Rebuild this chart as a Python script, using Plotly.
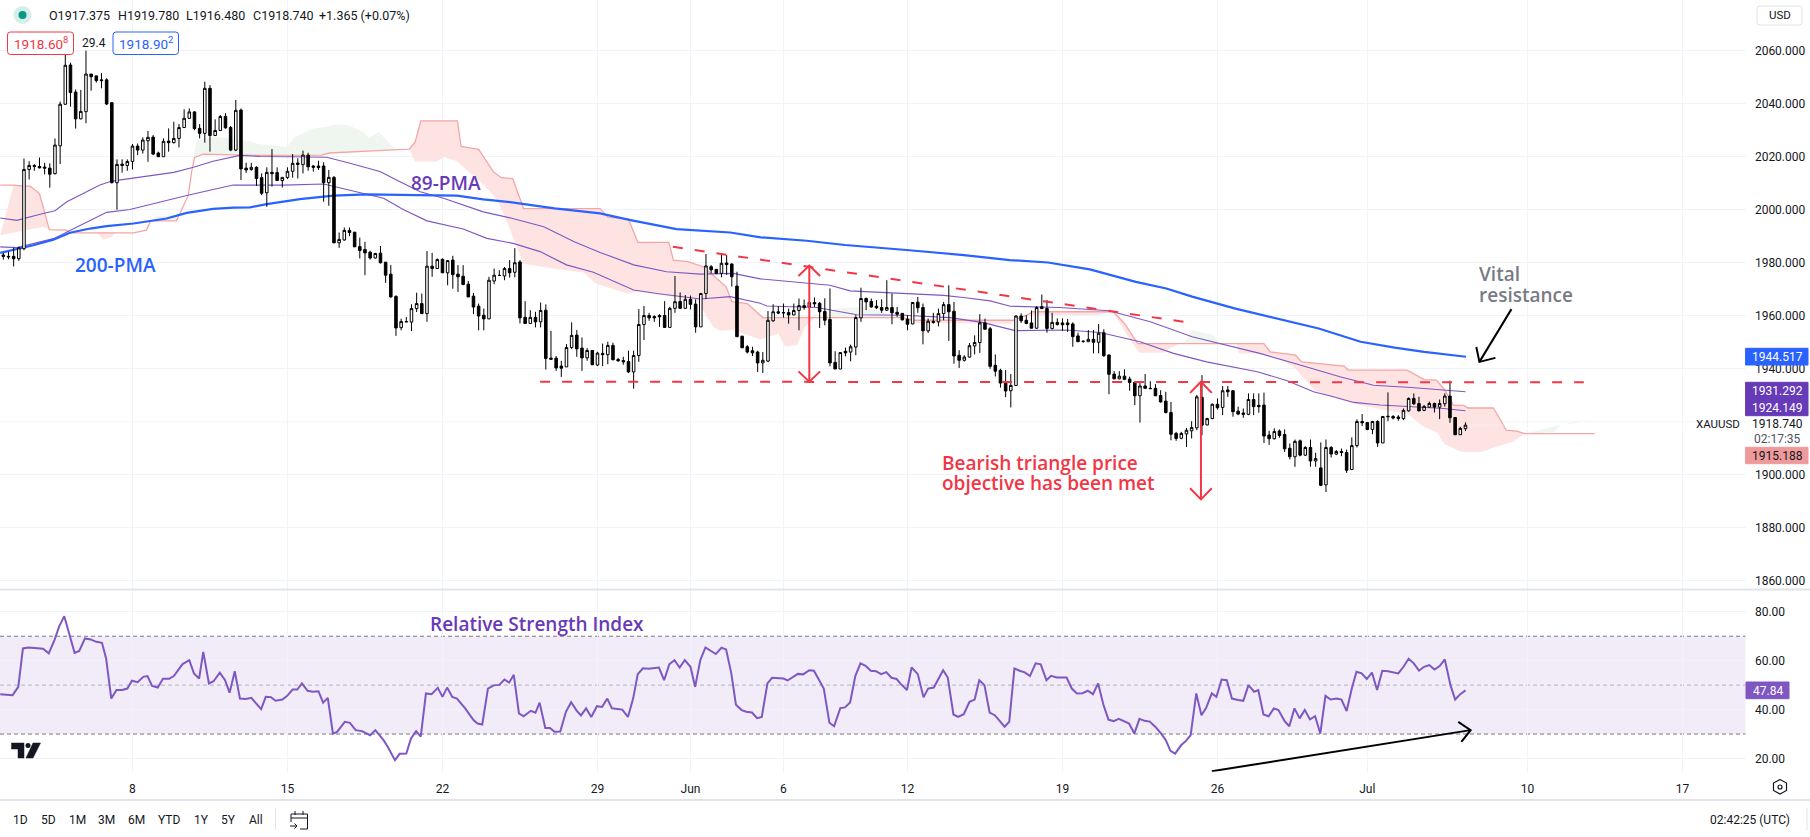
import plotly.graph_objects as go

W, H = 1810, 837
PANE_R, MAIN_B, RSI_B = 1745.5, 589.0, 771.7
BLACK, RED, BLUE, PURPLE, DEEP = "#000000", "#f23645", "#2962ff", "#7e57c2", "#673ab7"
TXT, GRID = "#131722", "#f0f3fa"
FONT, LABEL = "Roboto", "Open Sans"

opens = [1982.9,1982.4,1982.4,1981.5,1985.3,2015.2,2016.7,2016.3,2016.1,2015.7,
2013.6,2024.1,2039.8,2054.6,2044.4,2034.3,2037,2051.2,2050.5,2049,
2049,2040.4,2010.2,2017.2,2016.7,2018.2,2024,2022.5,2026,2027.4,
2021.4,2020,2025.9,2025.3,2026.9,2031,2034.5,2036.9,2030.7,2028.8,
2045.8,2028,2029.9,2035.2,2031,2022.5,2037.6,2015.7,2015.2,2016,
2012.1,2006.4,2014.1,2014,2011,2012.2,2014.5,2017.6,2017,2020.6,
2016.5,2016.5,2016.5,2010.2,2012.2,1987.5,1988.6,1992.2,1991.5,1986.1,
1985,1984,1981.8,1983.6,1980.2,1975.7,1967.3,1955.5,1957.8,1957.6,
1962.7,1964.6,1960.8,1978.7,1977.8,1981.3,1976.2,1981,1975.7,1974.9,
1971.9,1967.4,1963.6,1960.2,1958.8,1973.1,1975.2,1975,1977.8,1976.4,
1980.3,1959.4,1957.1,1959.4,1957.7,1962.1,1944,1944,1941,1940.7,
1948,1952.7,1947.8,1944.1,1946.9,1941.4,1945.8,1945.3,1948.8,1943.5,
1943.1,1942.7,1938.8,1945,1956.7,1960.1,1959.7,1960.1,1960.1,1955.6,
1962.8,1965.4,1962.8,1966.2,1964.4,1955.8,1968.4,1978.5,1977.5,1976,
1979.9,1979.5,1971.2,1952.3,1948.3,1946.8,1946.3,1942.2,1942.9,1958.1,
1961.5,1961.2,1961.2,1960.3,1962,1963.8,1963.3,1965,1964.7,1961.6,
1958.6,1942.4,1939.9,1946.6,1946.3,1948.2,1959.2,1966.5,1965.4,1963.6,
1963.1,1962.1,1963.1,1961.3,1960.9,1958.7,1956.9,1965.1,1963.1,1954.3,
1957.9,1957.7,1960.8,1964.2,1961.7,1945.1,1943.2,1944.4,1948.6,1949.9,
1957.3,1955.1,1941.3,1939.4,1934.9,1931.7,1933.7,1959.9,1958.3,1957.3,
1955.3,1963.4,1962.7,1955.2,1957.5,1957.3,1957.3,1956.9,1952.4,1950.4,
1950.2,1951.1,1950,1953.6,1945.2,1938,1936.2,1937.2,1936.1,1934.8,
1929.8,1933.5,1932.6,1932.6,1929.9,1927.8,1923.5,1915.6,1913.8,1915.4,
1916.6,1917.7,1929.2,1918.8,1921.2,1926.6,1925.4,1932,1931.7,1924,
1923.3,1922.8,1928.4,1926.2,1926.3,1915,1913.6,1916.5,1915.2,1910,
1906.8,1912.8,1907.4,1910.3,1905.2,1902.6,1896.2,1910.3,1907.8,1908.8,
1908.4,1902,1911,1920.1,1919.7,1917.1,1920.1,1912,1922.1,1922,
1921.8,1921.2,1924.1,1928.8,1926.9,1924.3,1925.5,1926.9,1925.5,1926.8,1929.7,1921.6,1915.1,1917.375]

highs = [1983.7,1984.1,1985.7,1986,2019.3,2018.3,2017.2,2019.7,2017.7,2017.5,
2026.9,2040.8,2058.4,2055.5,2045.4,2045.2,2060,2051.2,2050.6,2051.5,
2049.6,2040.4,2019,2019,2019,2024.8,2025,2027.3,2029.7,2028.2,
2021.9,2026.9,2030.7,2033.2,2032.3,2037.9,2038.2,2037.2,2032.3,2048.3,
2047,2034.1,2035.7,2036.4,2031.6,2041.4,2038.2,2017.7,2017.7,2016.4,
2013.7,2016,2022.9,2016,2012.2,2016,2021,2019.4,2022.3,2021.5,
2016.9,2018.5,2017.9,2015,2012.7,1991.4,1993.3,1993.3,1991.7,1989.5,
1987.9,1984.5,1983.7,1986.3,1980.3,1979.1,1967.7,1958.9,1959.5,1964.3,
1968.7,1968.4,1984.4,1983.7,1981.6,1981.6,1981,1982.6,1979.1,1979.1,
1973.1,1968.6,1964.6,1962.7,1974.7,1977.8,1977.2,1978.4,1981,1985.5,
1981,1965.5,1962.1,1961.5,1965,1964.3,1954.3,1944.8,1943,1949.3,
1957.5,1954.6,1951.8,1947.8,1947,1946.4,1949.5,1950.2,1949.8,1944.1,
1944.5,1946.8,1946.8,1962.5,1963.7,1961.1,1960.2,1960.6,1965.5,1963.4,
1975,1968.8,1967.8,1967.6,1966.2,1968.4,1983.3,1979.1,1977.5,1983.6,
1982.9,1979.8,1976.6,1952.3,1948.9,1948.3,1946.8,1946.3,1961.8,1964.3,
1963.6,1964.6,1962.7,1964.6,1966.5,1966.1,1965,1966.9,1965.2,1966.6,
1970.3,1946.6,1946.3,1948,1949.1,1960.2,1970.6,1966.9,1966.5,1965.9,
1966.2,1973.4,1968.4,1963.3,1960.9,1960.2,1965.2,1967.1,1964.6,1958.9,
1961.1,1962.7,1965.2,1971.5,1965.2,1947,1945.1,1949.7,1952.6,1960.6,
1958.9,1955.8,1945.4,1940,1939.5,1938,1960.2,1960.9,1960.2,1962,
1963.6,1968,1965.9,1961.1,1959,1959,1958.8,1957.5,1953.6,1950.8,
1954.6,1954.6,1956.9,1954.9,1945.4,1939.1,1939.1,1939.8,1937,1935.1,
1935.1,1938,1935.3,1934.2,1931.9,1931.3,1927.5,1916.2,1916.2,1917.7,
1920.2,1930.1,1937.6,1921.5,1926.9,1928.8,1933.5,1933.5,1932,1925.7,
1925,1930.7,1930.7,1930.7,1931,1916.6,1917.5,1917.1,1917.1,1911.8,
1913.3,1913.3,1910.8,1913.3,1908.3,1912.2,1913.3,1910.8,1909.3,1909.9,
1909.5,1914.1,1920.9,1922.9,1919.9,1920.2,1920.6,1922.1,1931.1,1922.5,
1922.5,1925,1929.2,1930.7,1929.4,1926.3,1927.6,1927.2,1928.4,1930.7,1935.5,1921.6,1918.1,1919.78]

lows = [1981.2,1981.3,1978.6,1980.7,1984.7,2011.4,2014.7,2015.6,2013.3,2008.3,
2013.3,2017.2,2039.5,2038.9,2030.6,2034.1,2032.6,2044.9,2048,2045.8,
2039.5,2009.9,2000,2014,2014.7,2015.2,2020.6,2021.2,2018.1,2020.6,
2020,2020,2021.9,2025,2023.5,2031,2034.2,2030,2026.9,2025.3,
2021.9,2027.8,2029.8,2030.6,2022.1,2022.1,2011.2,2013.9,2014.7,2009,
2005.5,2001.1,2008.7,2011,2008.4,2011.6,2012.1,2011.8,2013.7,2014.7,
2014.4,2015,2003,2001.5,1987.5,1985.6,1988.3,1990,1986,1981.6,
1975.3,1981.2,1981.6,1979.7,1972.4,1966.8,1952.4,1954.5,1957.7,1954.2,
1961.4,1960.8,1957.7,1974.7,1977.7,1976.2,1971.5,1970.2,1969,1971.5,
1967.1,1960.6,1954.5,1954.5,1958.8,1971.9,1975,1973.4,1974.4,1974.5,
1957.1,1957.1,1957.1,1955.6,1955.6,1939.7,1943.5,1939.2,1936.9,1940.7,
1947.4,1944.5,1939.2,1943,1941.4,1941,1941,1941.7,1943.2,1942.6,
1941.5,1938.4,1932.5,1942.6,1950.8,1958.1,1957.7,1955.8,1955.5,1955.5,
1961.1,1962.6,1962.6,1962.4,1953.6,1955.8,1966.3,1976,1975.7,1974.5,
1975.4,1971,1952.1,1947.9,1945.8,1944.8,1938.8,1938.4,1942.5,1957.7,
1960.6,1959.3,1957,1960.2,1954.5,1962.3,1963.1,1963.3,1955.4,1956.4,
1940.9,1939.9,1939.9,1944.7,1942.8,1945.1,1957.7,1962.1,1963.1,1962.5,
1961.1,1961.8,1956.8,1959.6,1958.4,1954.5,1956.8,1961.1,1949.2,1953.5,
1957,1956,1958.3,1950.5,1941.9,1940.3,1942.7,1944.2,1945.4,1946,
1954.9,1940,1937.1,1932.9,1929.3,1925.4,1933.5,1957.3,1956.8,1955.2,
1955,1962.5,1953.6,1954.8,1956.3,1954.3,1953.9,1948.3,1950.1,1949.8,
1950.2,1945.8,1945.8,1944.5,1930.4,1936,1936,1935.7,1931.7,1926.3,
1919.7,1932.6,1932.5,1929.7,1927.2,1923.1,1913,1912.8,1913.4,1910.5,
1913.7,1916.8,1914.9,1918.7,1921,1924.6,1922.5,1929.4,1921.9,1922.5,
1921.5,1922.5,1922.5,1923.4,1912,1911.3,1913.3,1914,1908.6,1905.8,
1903,1907,1907.1,1903,1903,1895.7,1893.5,1906.5,1907.4,1907,
1900.7,1901.7,1910.3,1918.4,1916.8,1915.3,1910.5,1912,1920.2,1920.9,
1920.4,1920.6,1923.8,1926.3,1924,1924,1925.3,1923.5,1921,1925.7,1919.6,1915.1,1915,1916.48]

closes = [1982.4,1982.2,1981.5,1985.6,2015.2,2016.7,2016.3,2015.8,2015.7,2013.4,
2024.4,2039.8,2054.5,2044.2,2034.3,2037.1,2051.2,2050.2,2048.7,2048.7,
2039.9,2010.2,2017.1,2016.7,2018.2,2024,2022.5,2026.3,2027.3,2021,
2020,2025.8,2025.3,2026.9,2031,2034.5,2036.9,2030.6,2028.8,2045.8,
2028,2029.9,2035.2,2030.9,2022.5,2037.5,2015.4,2015,2016,2011.8,
2006.2,2014.1,2013.6,2011,2012.2,2014.5,2017.5,2017.1,2020.6,2016.2,
2016,2015.9,2010.2,2012.2,1987.5,1988.8,1992.2,1991.4,1986,1984.6,
1983.7,1981.8,1983.5,1980,1975.3,1967.1,1955.4,1957.8,1957.7,1962.7,
1964.6,1960.8,1978.7,1977.8,1981.2,1976.2,1980.8,1975.5,1974.7,1971.8,
1967.1,1963.3,1959.9,1958.8,1973.4,1975.3,1975.2,1977.8,1976.2,1980,
1959.2,1957.1,1959.4,1957.7,1962,1943.9,1943.6,1940.3,1940.2,1948,
1952.6,1947.5,1944.1,1946.9,1941.5,1945.9,1945.3,1948.8,1943.4,1943,
1942.6,1938.8,1945,1956.7,1960.1,1959.2,1959.2,1959.6,1955.6,1962.8,
1965.3,1962.8,1966.2,1964.3,1955.8,1968.4,1978.8,1977.3,1976,1979.8,
1979.3,1974.7,1952.1,1947.9,1946.3,1946,1942.2,1943.2,1958.3,1961.5,
1961,1961.1,1960.3,1962,1963.8,1963.1,1965,1964.5,1961.5,1958.3,
1942.2,1939.9,1946.1,1946,1948.3,1959.3,1966.5,1965.2,1963.3,1963,
1962.1,1963.1,1961.1,1960.6,1958.4,1956.8,1965,1963,1954.3,1957.9,
1957.5,1960.8,1964.2,1961.5,1944.8,1943.2,1944.4,1948.7,1949.9,1957.3,
1954.9,1940.9,1939.1,1934.6,1931.6,1933.7,1959.9,1958.1,1957.1,1955.3,
1963.1,1962.7,1955.2,1957.5,1956.7,1956.6,1956.6,1952.1,1950.2,1950.3,
1951.1,1950,1953.4,1944.9,1937.9,1936.2,1937.2,1936,1934.8,1929.8,
1933.5,1932.6,1932.5,1929.8,1927.5,1923.5,1915.3,1913.7,1915.6,1916.8,
1917.8,1929.4,1918.7,1921.2,1926.6,1925.3,1931.7,1931.3,1923.8,1922.9,
1922.8,1928.4,1925.7,1925.7,1914.6,1913.6,1916.3,1914.8,1909.8,1906.8,
1912.6,1907.4,1910.3,1905.2,1906.1,1896,1910.3,1907.8,1908.8,1908.4,
1901.7,1911,1920.1,1919.6,1917.1,1920.1,1912,1922,1921.9,1921.4,
1921.2,1924.3,1928.8,1926.8,1924.1,1925.8,1926.9,1925.5,1926.9,1929.7,1921.5,1915.1,1917.5,1918.74]
candle_x = list(range(len(opens)))
assert len(opens) == len(highs) == len(lows) == len(closes) == 284

ma_upper_x = [-0.6,2.6,7.7,10,12.3,18.7,21,27.7,33,36.8,40.6,45.8,49.7,55.5,62.6,67.1,72.9,76.1,80.7,85.2,89,92.9,98.6,104.6,110.5,115.5,122,128.4,134.9,141.3,146.5,160,163.9,171.6,182,185.8,191,194.9,204.4,214,222,230.1,236.7,243.2,250.5,258.7,265.2,272.5,283]
ma_upper = [1996.9,1996,1998.6,1999.6,2003,2009.3,2010.8,2012.7,2014.1,2016,2018.3,2020.5,2020.1,2020,2019.8,2017.5,2014.4,2011.2,2006.8,2004.3,2001.8,1999.2,1996.7,1993.6,1987.9,1983.9,1979.2,1976.6,1975.7,1976,1973.9,1971.5,1969.4,1968.6,1967.7,1966.9,1965.6,1963.6,1963.1,1961.9,1957.7,1952.1,1948.9,1945.8,1941.7,1937,1933.8,1932.9,1931.3]
ma_lower_x = [-0.6,2.6,9.7,12.3,16.1,20,24.5,30.2,35.3,40.6,44.5,47.75,54.2,62,67.1,73.6,77.4,82,89,93.6,98.7,103.9,109,114.2,122,126.5,134.9,140.7,146.5,147.8,157.5,165.2,174.2,183.3,189.7,195.8,205.8,212.3,220,226.5,232.9,237.5,242.7,248.5,253.6,256.9,261.4,266.5,273.6,278.8,283]
ma_lower = [1986,1985.7,1989.1,1991.6,1995.4,1999,2000.1,2003,2005.3,2007.6,2009.3,2009.3,2009.3,2009.7,2007.4,2004.3,2000.1,1995.8,1992.7,1989.2,1987.3,1984.2,1979.2,1976.4,1969.7,1968.4,1966.3,1967.2,1964.7,1963.7,1963.1,1960.4,1960.2,1959.3,1957.4,1954.4,1954.6,1953.7,1950.2,1945.8,1942.6,1940.8,1938.9,1935.5,1931.3,1929.7,1927.3,1926.3,1925.7,1925,1924.149]
ma_200_x = [-0.6,2.6,5.8,9.7,12.9,16.8,20,25.2,28.4,31.6,35.5,40.6,44.5,47.75,51,57.4,63.9,70.3,80,87.8,92.9,98.1,106.7,115.5,121.4,130.3,140.7,146.6,155.5,162.9,174.8,185.9,194.8,202.2,210.3,219.2,225.1,230.1,238.3,246.4,254.6,262.7,269.3,275,283.1]
ma_200 = [1983.7,1985.1,1986.6,1988.7,1991.3,1992.9,1993.8,1994.8,1995.7,1996.7,1998.8,2000.3,2000.8,2000.9,2002.1,2004,2005.3,2005.8,2005.5,2005.3,2003.9,2002.9,2000.5,1998.6,1996.1,1992.7,1991.4,1989.6,1988.3,1986.7,1984.8,1982.9,1981,1980.1,1977.5,1972.8,1970.3,1967.2,1962.8,1959,1955.2,1950.2,1948,1946.4,1944.517]

span_b_x = [-0.6,2,3.9,5.2,7,8.9,12.2,12.9,25.2,27.7,28.5,33.5,34.2,35.8,36.5,37,38.7,49.7,61.6,63.1,73.4,78.6,79.7,80.8,87.9,88.6,92,94.9,96.4,98.6,100.7,115.5,117,121,122.8,128.8,129.7,132.5,135.5,139.9,141,144,147,174,176.2,195.5,198.1,199.2,214.8,217,219.6,231.6,244,245.2,250.1,251.3,259.5,260.3,271.7,275,277.4,279,280.7,282.7,283.5,288.4,290.9,292.9,294.5,308]
span_b = [2009.3,2009.3,2008.9,2008.9,2006.1,1992.5,1992.3,1991.3,1991.3,1992.3,1995.8,1995.8,1998.6,2005.5,2014.9,2019.7,2021,2020.5,2020.6,2021.4,2022.4,2022.9,2025.5,2033.5,2033.5,2023.9,2022.8,2014.2,2012.1,2011.7,2000.4,2000.4,1997.2,1996.5,1987.7,1987.7,1981,1980.4,1978.5,1970.9,1965.3,1964.6,1959.3,1959.3,1958.3,1958.3,1960.2,1961.5,1961.5,1957.1,1949.5,1949.4,1949.5,1946.4,1945.1,1942.6,1941,1939.5,1939.5,1935.9,1935.7,1931.9,1926.2,1926.2,1925.2,1925.2,1916.8,1916.5,1915.5,1915.5]

red_cloud_x = [[-0.6,2,4,7.6,8.7],[18.1,19.4,21,21.6],[78.6,79.7,83.8,85.3,87.9,91.2,93.4,95.7,97.9,100.7,106.8,112.3,114.7,120.7,122.9,129.7,134.2,137.4,138.7,141.3,146.5,150,151.3,153.6,155.2,156.8,157.5],[174,176.5,195,196],[196,199.2,212,214.8],[214.8,216.2,218.1,219.9,224.4,225.9,227.4],[238.7,239.1,243.6,246.4,249.7,253.8,257,261.1,267.6,271.7,275,277.4,279,282.3,286,288.8,292.1,294.5]]
red_cloud_y = [[1990.4,1991.3,1992,1993.5,1992.8],[1991.3,1988.7,1989.7,1991.3],[2022.9,2018.2,2018.2,2019.9,2018.2,2012.3,2008.5,2003.5,1993.4,1979.6,1977.7,1976.3,1972.2,1968.4,1969.1,1967.2,1965.9,1955.8,1954.3,1954.6,1951,1953.3,1948.5,1948.9,1955.8,1958.9,1959.3],[1959.3,1957.3,1957,1958.7],[1958.7,1960.2,1960.3,1961.5],[1961.5,1957,1950.8,1946,1946,1947.6,1949.3],[1949.5,1945.8,1945.8,1944.5,1940.8,1931.9,1929.4,1926.9,1924.3,1923.1,1918,1916.1,1911.5,1908.6,1908.6,1910.5,1912.4,1915.5]]
green_cloud_x = [[28.5,29.7,33.5,34.5],[36.8,37.5,40.8,46.8,49.7,54.9,56.4,60.1,62.3,64.5,66.8,69.7,70.8,72.7,75.7,76.4],[157.5,160,161.3,166.5,168.8,172,174],[228,229,230.1,234.2,235.4],[294.5,300.2,301.5,304.7,305.5,308]]
green_cloud_y = [[1995.8,1997.7,1997.9,1998.6],[2019.9,2026.2,2027.4,2026.2,2024.7,2023.7,2027.4,2030.6,2031.2,2032.2,2031.9,2029.3,2027.2,2029.3,2023,2022.7],[1959.3,1961.5,1962.7,1963.3,1962.1,1960,1959.3],[1949.4,1951,1954.6,1952.7,1949.5],[1915.5,1916.1,1919,1919.5,1920.6,1921.8]]

rsi_x = [-0.6,1.8,2.9,3.8,4.9,7.7,8.8,9.9,10.8,11.8,13.8,14.7,15.8,16.9,18,19.1,19.9,20.9,21.9,23,24,24.9,26,27.1,27.9,28.8,29.9,30.9,32.1,33,34.7,36,36.9,37.9,38.7,39.8,40.7,41.9,42.9,43.8,44.8,45.8,46.9,48,49.9,50.8,51.8,52.7,54,54.9,56,56.9,57.8,58.9,59.9,61,61.9,62.8,63.8,64.6,66.1,67.1,68.2,69.4,71,72,73.6,74.4,75.8,76.7,78,78.9,79.9,80.8,81.8,82.9,84.1,85,85.9,86.9,87.8,89.4,91,91.8,92.7,93.8,94.9,96,97,97.9,98.8,99.8,100.7,102.1,103,103.8,104.9,105.8,106.7,107.8,108.9,109.9,111,111.8,112.8,113.8,114.9,115.9,116.9,117.8,119.8,120.9,121.9,122.8,123.8,124.9,126.9,127.9,128.9,129.9,130.9,131.9,133,133.9,134.9,135.9,137.9,139,139.9,140.9,141.8,142.9,143.8,144.9,145.9,146.8,147.9,148.8,151,151.8,153.8,154.8,156,156.9,158.8,159.9,160.8,162,162.9,163.9,164.9,165.9,166.9,167.9,168.9,169.9,170.9,171.9,172.9,173.6,174.9,175.8,177,178.1,179,180.1,181.9,182.8,183.9,184.8,185.9,187,188,188.9,189.9,190.9,191.9,192.9,193.8,194.7,195.7,196.7,197.7,198.7,199.8,200.8,201.9,202.8,203.9,205.8,206.8,207.8,208.9,209.9,210.9,211.9,212.9,213.9,214.9,215.9,216.9,217.9,218.9,219.9,220.9,221.9,223,224.1,225,225.9,226.8,228,228.9,229.8,230.9,231.9,232.8,233.9,234.8,235.8,236.8,237.8,239,240,241,242.1,242.9,243.9,244.9,245.9,246.8,248,248.9,249.9,250.9,251.9,252.9,253.9,254.9,255.9,256.9,258.1,259,260,261,261.9,262.9,263.9,264.9,265.9,266.9,268,270,271,272,273,274,275,276,277,278,279,280.1,281,282,283]
rsi = [46.3,45.9,49.3,65,65.4,64.9,63,68.4,73.9,78.2,63.2,64,69.1,68.7,67.7,67.3,60.9,44.5,48,48,48.6,51.8,51.2,53.4,53.7,49.7,49,52.6,52.6,53.7,58.6,60.2,54.8,52.7,63.6,50.7,51.6,55.1,52.1,46.9,55.7,44.5,44.3,44.8,40.2,45.2,45.1,43.6,44.1,45.5,48.2,48.2,50.7,47.7,47.3,47.5,42.8,44.8,30.2,30.9,35,34.6,31.6,31.2,29.5,31.6,27.5,24.8,19.3,21.9,22,28.2,31.2,28.9,46.6,46.3,48.9,45.2,49,45.2,44.5,40.5,35.7,34.3,33.9,48.6,49.9,50.1,52.3,51,54.2,38.4,37.3,39.5,38.7,42.8,32.5,32.5,30.9,31,39.1,43,39.5,37.6,40.5,37,41.4,41.1,44.5,40.5,40,37,44.5,54.5,56.9,56.7,57.2,52,58.5,60.2,57.2,60.2,57.5,49.3,60.2,65.4,62.7,65.3,64.6,54.8,42,39.8,39.1,38.8,36.5,37,50.7,53,52.7,51.9,54.6,54.4,56.1,55.9,48.6,34.6,33.2,40.6,40.9,42.9,53.7,58.9,57.9,55.9,55.7,54.5,55.3,53,52.5,50.7,48,57.2,54.5,45,48.6,49,56.1,53.1,38,37,38.1,43.2,44.1,52,50,38.8,37.7,35,33,35,56.8,55.9,55.2,53.7,58.9,58.5,52,53.8,53.1,53.1,48.6,46.6,46.7,47.7,46.3,50.7,42.2,35.9,35.3,36.2,35.4,34.3,30.2,36.2,35.4,35.1,32.9,30.2,27.5,23.1,22,25.5,27.2,29.5,46.6,37.7,40.6,46.6,45.2,52.3,52,44.5,43.9,43.6,50,47.3,48,38,37.3,40.5,39.8,35.3,33.2,40.5,36.4,39.8,36,37.3,30.2,45.6,44.1,44.5,44.1,39.4,48.6,55.5,54.8,52.5,55.1,48,55.9,55.7,54.8,57.5,60.8,58.9,55.9,57.5,58.2,56.4,57.8,60.5,50,44.1,46.3,47.84]

price_ticks = [1860,1880,1900,1940,1960,1980,2000,2020,2040,2060]
price_labels = ["1860.000","1880.000","1900.000","1940.000","1960.000","1980.000","2000.000","2020.000","2040.000","2060.000"]
hidden_grid_price = 1920
rsi_ticks = [20,40,60,80]
rsi_labels = ["20.00","40.00","60.00","80.00"]
date_ticks = [25,55,85,115,133,151,175,205,235,264,295,325]
date_labels = ["8","15","22","29","Jun","6","12","19","26","Jul","10","17"]

trend_x, trend_y = [129.6,228.5], [1986,1957.7]
support_x, support_y = [103.9,305.9], [1935.1,1934.9]
last_close = 1918.74

fig = go.Figure()
xp = lambda v: v / W
yp = lambda v: 1 - v / H


def poly(xs, ys, color):
    lo, hi = min(xs), max(xs)
    back = [(a, b) for a, b in zip(span_b_x, span_b) if lo < a < hi][::-1]
    fig.add_trace(go.Scatter(x=xs + [p[0] for p in back], y=ys + [p[1] for p in back], mode="lines",
                             line=dict(width=0), fill="toself", fillcolor=color, hoverinfo="skip"))


for a, b in zip(red_cloud_x, red_cloud_y):
    poly(a, b, "#fde4e3")
for a, b in zip(green_cloud_x, green_cloud_y):
    poly(a, b, "#eff6f0")
fig.add_trace(go.Scatter(x=span_b_x, y=span_b, mode="lines", line=dict(color="#f5a5a5", width=1.3)))
fig.add_trace(go.Scatter(x=[282, 337.2], y=[last_close, last_close], mode="lines",
                         line=dict(color="#ffffff", width=1, dash="1px,2px")))
fig.add_trace(go.Scatter(x=ma_upper_x, y=ma_upper, mode="lines", line=dict(color=PURPLE, width=1.1)))
fig.add_trace(go.Scatter(x=ma_lower_x, y=ma_lower, mode="lines", line=dict(color=PURPLE, width=1.1)))
fig.add_trace(go.Scatter(x=ma_200_x, y=ma_200, mode="lines", line=dict(color=BLUE, width=2.2)))
# candles sit on their own overlay axes so they draw above the cloud and averages
fig.add_trace(go.Candlestick(x=candle_x, open=opens, high=highs, low=lows, close=closes, whiskerwidth=0,
                             xaxis="x3", yaxis="y3",
                             increasing=dict(fillcolor="#ffffff", line=dict(color=BLACK, width=1)),
                             decreasing=dict(fillcolor=BLACK, line=dict(color=BLACK, width=1))))
for xs, ys in ((trend_x, trend_y), (support_x, support_y)):
    fig.add_trace(go.Scatter(x=xs, y=ys, mode="lines", xaxis="x4", yaxis="y4",
                             line=dict(color=RED, width=2, dash="10px,12px")))


def arrow(xs, ys, color, axis="y4", xa="x4"):
    fig.add_trace(go.Scatter(x=xs, y=ys, mode="lines", xaxis=xa, yaxis=axis, cliponaxis=False,
                             line=dict(color=color, width=2)))


arrow([156, 156], [1978.9, 1935.1], RED)
arrow([153.9, 156, 158.1], [1975, 1978.9, 1975], RED)
arrow([153.9, 156, 158.1], [1939, 1935.1, 1939], RED)
arrow([231.8, 231.8], [1935.1, 1890.7], RED)
arrow([229.7, 231.8, 233.9], [1930.9, 1935.1, 1930.9], RED)
arrow([229.7, 231.8, 233.9], [1894.9, 1890.7, 1894.9], RED)
arrow([291.9, 285.7], [1962.5, 1942.6], BLACK)
arrow([285.1, 285.7, 288.8], [1948.2, 1942.6, 1944.1], BLACK)
arrow([233.9, 284], [14.8, 31.6], BLACK, "y2", "x2")
arrow([281.6, 284, 282.2], [35, 31.6, 26.8], BLACK, "y2", "x2")
fig.add_trace(go.Scatter(x=rsi_x, y=rsi, mode="lines", xaxis="x2", yaxis="y2", line=dict(color=PURPLE, width=2)))

shapes = [
    dict(type="line", xref="paper", x0=0, x1=xp(PANE_R), yref="y", y0=hidden_grid_price, y1=hidden_grid_price, line=dict(color=GRID, width=1), layer="below"),
    dict(type="rect", xref="paper", x0=0, x1=xp(PANE_R), yref="y2", y0=30, y1=70, fillcolor="#f1ecf8", line_width=0, layer="below"),
    dict(type="line", xref="paper", x0=0, x1=xp(PANE_R), yref="y2", y0=70, y1=70, line=dict(color="#787b86", width=1, dash="4px,3px"), layer="below"),
    dict(type="line", xref="paper", x0=0, x1=xp(PANE_R), yref="y2", y0=50, y1=50, line=dict(color="#b2b5be", width=1, dash="4px,3px"), layer="below"),
    dict(type="line", xref="paper", x0=0, x1=xp(PANE_R), yref="y2", y0=30, y1=30, line=dict(color="#787b86", width=1, dash="4px,3px"), layer="below"),
    dict(type="line", xref="paper", yref="paper", x0=0, x1=1, y0=yp(589.5), y1=yp(589.5), line=dict(color="#e0e3eb", width=2)),
    dict(type="line", xref="paper", yref="paper", x0=0, x1=1, y0=yp(800), y1=yp(800), line=dict(color="#e0e3eb", width=2)),
    dict(type="line", xref="paper", yref="paper", x0=xp(275.5), x1=xp(275.5), y0=yp(808), y1=yp(830), line=dict(color="#e0e3eb", width=1)),
    dict(type="line", xref="paper", yref="paper", x0=xp(1807), x1=xp(1807), y0=yp(808), y1=yp(830), line=dict(color="#e0e3eb", width=1)),
    dict(type="circle", xref="paper", yref="paper", x0=xp(13.5), x1=xp(31.5), y0=yp(6), y1=yp(24), fillcolor="#d5eeea", line_width=0),
    dict(type="circle", xref="paper", yref="paper", x0=xp(18.5), x1=xp(26.5), y0=yp(11), y1=yp(19), fillcolor="#089981", line_width=0),
]


def rpath(x0, y0, x1, y1, r):
    return (f"M {xp(x0+r)} {yp(y0)} L {xp(x1-r)} {yp(y0)} Q {xp(x1)} {yp(y0)} {xp(x1)} {yp(y0+r)} "
            f"L {xp(x1)} {yp(y1-r)} Q {xp(x1)} {yp(y1)} {xp(x1-r)} {yp(y1)} L {xp(x0+r)} {yp(y1)} "
            f"Q {xp(x0)} {yp(y1)} {xp(x0)} {yp(y1-r)} L {xp(x0)} {yp(y0+r)} Q {xp(x0)} {yp(y0)} {xp(x0+r)} {yp(y0)} Z")


def box(x0, y0, x1, y1, fill="#ffffff", line=None, r=0):
    shapes.append(dict(type="path", xref="paper", yref="paper", path=rpath(x0, y0, x1, y1, r), fillcolor=fill,
                       line=dict(color=line or fill, width=1)))


def seg(points, color=TXT, width=1.2, fill=None):
    d = "M " + " L ".join(f"{xp(a)} {yp(b)}" for a, b in points) + (" Z" if fill else "")
    shapes.append(dict(type="path", xref="paper", yref="paper", path=d, fillcolor=fill,
                       line=dict(color=color, width=width)))


box(7.5, 32, 73.5, 54.5, line=RED, r=3)
box(113, 32, 178.5, 54.5, line=BLUE, r=3)
box(1757, 6, 1802, 25, line="#e0e3eb", r=3)
box(1745.6, 348.3, 1808, 365, fill=BLUE)
box(1745.6, 382.3, 1808, 415.7, fill=DEEP)
box(1745.6, 447.3, 1808, 463.7, fill="#ef9a9a")
box(1746, 682, 1789, 698.7, fill=PURPLE)
# TradingView mark and small toolbar icons
seg([(11.5, 743), (24, 743), (24, 758), (18, 758), (18, 749), (11.5, 749)], color=TXT, width=0.5, fill=TXT)
seg([(33, 743), (40.5, 743), (33, 758), (26, 758)], color=TXT, width=0.5, fill=TXT)
shapes.append(dict(type="circle", xref="paper", yref="paper", x0=xp(25.5), x1=xp(30.5), y0=yp(743), y1=yp(748), fillcolor=TXT, line_width=0))
seg([(291, 814), (307.5, 814), (307.5, 829), (300, 829)], width=1)
seg([(291, 814), (291, 822)], width=1)
seg([(291, 818), (307.5, 818)], width=1)
seg([(295, 811), (295, 815)], width=1)
seg([(303, 811), (303, 815)], width=1)
seg([(290, 826), (297, 826)], width=1)
seg([(294.5, 823.5), (297, 826), (294.5, 828.5)], width=1)
seg([(1780, 779.5), (1786.5, 783), (1786.5, 790.5), (1780, 794), (1773.5, 790.5), (1773.5, 783), (1780, 779.5)], width=1.2)
shapes.append(dict(type="circle", xref="paper", yref="paper", x0=xp(1778), x1=xp(1782), y0=yp(785), y1=yp(789), line=dict(color=TXT, width=1.2)))


def label(text, x, y, color=TXT, size=12, anchor="left", family=FONT, weight=None):
    font = dict(color=color, size=size, family=family)
    if weight:
        font["weight"] = weight
    return dict(text=text, x=xp(x), y=yp(y), xref="paper", yref="paper", xanchor=anchor, yanchor="middle",
                showarrow=False, align=anchor, font=font, borderpad=0)


big = dict(size=19, family=LABEL, weight=600)
notes = [
    label("O1917.375", 48, 16, size=12.5), label("H1919.780", 116.5, 16, size=12.5), label("L1916.480", 185, 16, size=12.5),
    label("C1918.740", 251.5, 16, size=12.5), label("+1.365 (+0.07%)", 318, 16, size=12.5),
    label("1918.60<sup>8</sup>", 41, 43, color=RED, size=13.5, anchor="center"),
    label("29.4", 93.5, 43, size=12, anchor="center"),
    label("1918.90<sup>2</sup>", 146, 43, color=BLUE, size=13.5, anchor="center"),
    label("USD", 1779.5, 15.5, size=11.5, anchor="center"),
    label("1944.517", 1777, 356.5, color="#ffffff", anchor="center"),
    label("1931.292", 1777, 390.7, color="#ffffff", anchor="center"),
    label("1924.149", 1777, 407.7, color="#ffffff", anchor="center"),
    label("XAUUSD", 1740.5, 424, size=11.5, anchor="right"),
    label("1918.740", 1777, 424, anchor="center"),
    label("02:17:35", 1777, 438.5, color="#50535e", anchor="center"),
    label("1915.188", 1777, 455.5, anchor="center"),
    label("47.84", 1767.5, 690.5, color="#ffffff", anchor="center"),
    label("200-PMA", 73.5, 265, color=BLUE, **big),
    label("89-PMA", 409.5, 183, color=DEEP, **big),
    label("Relative Strength Index", 429, 624.3, color=DEEP, **big),
    label("Bearish triangle price", 941, 463, color=RED, **big),
    label("objective has been met", 941, 483.3, color=RED, **big),
    label("Vital", 1478, 274, color="#787b86", **big),
    label("resistance", 1478, 295, color="#787b86", **big),
    label("02:42:25 (UTC)", 1750, 820, anchor="center"),
]
for t, x in zip(["1D", "5D", "1M", "3M", "6M", "YTD", "1Y", "5Y", "All"], [20.7, 48.8, 77.5, 106.8, 136, 169, 201, 228.5, 256]):
    notes.append(label(t, x, 820, anchor="center"))

grid = dict(showgrid=True, gridcolor=GRID, gridwidth=1, zeroline=False, showline=False)
tickfont = dict(family=FONT, size=12, color=TXT)
X_RANGE, Y_RANGE = [-0.64, 337.2], [1856.9, 2079.13]
hidden = dict(visible=False, showgrid=False, zeroline=False)
fig.update_layout(
    width=W, height=H, margin=dict(l=0, r=0, t=0, b=0), paper_bgcolor="#ffffff", plot_bgcolor="#ffffff",
    showlegend=False, hovermode=False, shapes=shapes, annotations=notes,
    xaxis=dict(domain=[0, xp(PANE_R)], range=X_RANGE, anchor="y", tickmode="array", tickvals=date_ticks,
               showticklabels=False, ticks="", **grid),
    xaxis2=dict(domain=[0, xp(PANE_R)], range=X_RANGE, anchor="y2", tickmode="array", tickvals=date_ticks,
                ticktext=date_labels, ticks="outside", ticklen=6, tickcolor="rgba(0,0,0,0)", tickfont=tickfont, **grid),
    xaxis3=dict(domain=[0, xp(PANE_R)], range=X_RANGE, anchor="y3", overlaying="x", rangeslider=dict(visible=False), **hidden),
    xaxis4=dict(domain=[0, xp(PANE_R)], range=X_RANGE, anchor="y4", overlaying="x", **hidden),
    yaxis=dict(domain=[yp(MAIN_B), 1], range=Y_RANGE, anchor="x", side="right", tickmode="array",
               tickvals=price_ticks, ticktext=price_labels, ticks="outside", ticklen=6, tickcolor="rgba(0,0,0,0)", tickfont=tickfont, **grid),
    yaxis2=dict(domain=[yp(RSI_B), yp(590)], range=[14.6, 88.9], anchor="x2", side="right", tickmode="array",
                tickvals=rsi_ticks, ticktext=rsi_labels, ticks="outside", ticklen=6, tickcolor="rgba(0,0,0,0)", tickfont=tickfont, **grid),
    yaxis3=dict(domain=[yp(MAIN_B), 1], range=Y_RANGE, anchor="x3", overlaying="y", side="right", **hidden),
    yaxis4=dict(domain=[yp(MAIN_B), 1], range=Y_RANGE, anchor="x4", overlaying="y", side="right", **hidden),
)
fig.write_html("out.html", config=dict(displayModeBar=False), post_script="document.body.style.margin='0';")
